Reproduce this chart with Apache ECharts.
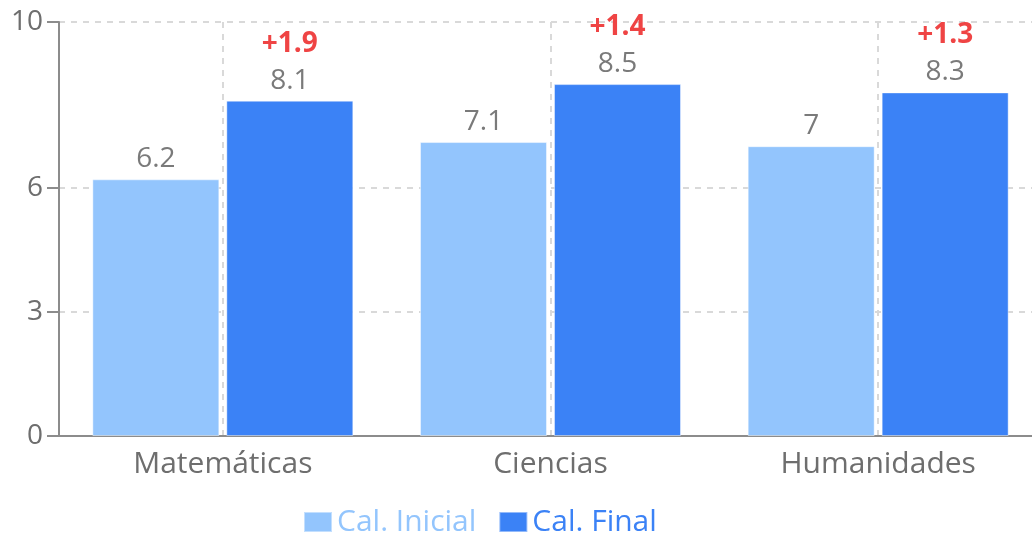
<!DOCTYPE html>
<html>
<head>
<meta charset="utf-8">
<script src="https://cdn.jsdelivr.net/npm/echarts@6/dist/echarts.min.js"></script>
<style>
html,body{margin:0;padding:0;background:#fff;}
#chart{width:1032px;height:533px;}
</style>
</head>
<body>
<div id="chart"></div>
<script>
const categories = ['Matemáticas', 'Ciencias', 'Humanidades'];
const initialScores = [6.2, 7.1, 7];
const finalScores = [8.1, 8.5, 8.3];
const yTicks = [0, 3, 6, 10];
const seriesNames = ['Cal. Inicial', 'Cal. Final'];
const colors = ['#93c5fd', '#3b82f6'];

const FONT = '"Open Sans", "Noto Sans", sans-serif';
const deltas = finalScores.map((v, i) => '+' + (v - initialScores[i]).toFixed(1));

const chart = echarts.init(document.getElementById('chart'), null, {renderer: 'canvas'});
chart.setOption({
  animation: false,
  textStyle: {fontFamily: FONT},
  grid: {left: 59, width: 983, top: 22, height: 414, containLabel: false, outerBoundsMode: 'none'},
  legend: {
    left: 298, top: 502,
    itemWidth: 28, itemHeight: 20, itemGap: 22,
    data: seriesNames.map((n, i) => ({name: n, icon: 'rect', textStyle: {color: colors[i]}})),
    textStyle: {fontSize: 30, fontFamily: FONT}
  },
  xAxis: {
    type: 'category',
    data: categories,
    axisLine: {lineStyle: {color: '#8c8c8c', width: 2}},
    axisTick: {alignWithLabel: true, length: 10, lineStyle: {color: '#8c8c8c', width: 2}},
    axisLabel: {fontSize: 30, color: '#6e6e6e', margin: 13, fontFamily: FONT},
    splitLine: {show: true, alignWithLabel: true, lineStyle: {color: '#d9d9d9', width: 2, type: [6, 6]}}
  },
  yAxis: {
    type: 'value',
    min: 0, max: 10,
    axisLine: {show: true, lineStyle: {color: '#8c8c8c', width: 2}},
    axisTick: {show: true, length: 12, customValues: yTicks, lineStyle: {color: '#8c8c8c', width: 2}},
    axisLabel: {fontSize: 28, color: '#6e6e6e', margin: 16, customValues: yTicks, fontFamily: FONT},
    splitLine: {show: true, lineStyle: {color: '#d9d9d9', width: 2, type: [6, 6]}}
  },
  series: [
    {
      name: seriesNames[0], type: 'bar', data: initialScores,
      barWidth: 127, barGap: '5.5%',
      itemStyle: {color: colors[0], borderColor: 'rgba(255,255,255,0.45)', borderWidth: 1},
      label: {show: true, position: 'top', distance: 5, fontSize: 28, lineHeight: 30, color: '#7a7a7a', fontFamily: FONT}
    },
    {
      name: seriesNames[1], type: 'bar', data: finalScores,
      barWidth: 127,
      itemStyle: {color: colors[1], borderColor: 'rgba(255,255,255,0.45)', borderWidth: 1},
      label: {
        show: true, position: 'top', distance: 5,
        formatter: p => '{d|' + deltas[p.dataIndex] + '}\n{v|' + p.value + '}',
        rich: {
          d: {fontSize: 28, fontWeight: 'bold', color: '#ef4444', lineHeight: 44, fontFamily: FONT},
          v: {fontSize: 28, color: '#7a7a7a', lineHeight: 30, fontFamily: FONT}
        }
      }
    }
  ]
});
</script>
</body>
</html>
